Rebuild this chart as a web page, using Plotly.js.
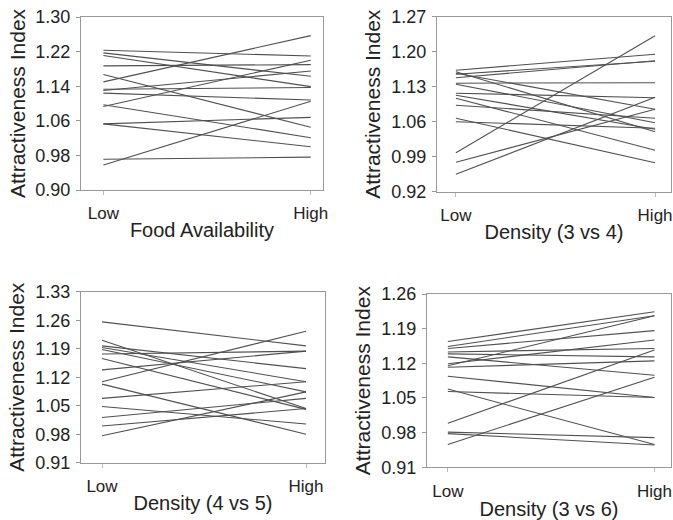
<!DOCTYPE html>
<html>
<head>
<meta charset="utf-8">
<script src="https://cdn.plot.ly/plotly-3.0.1.min.js"></script>
<style>html,body{margin:0;padding:0;background:#fff;}#chart{width:673px;height:520px;}</style>
</head>
<body>
<div id="chart"></div>
<script>
// ---- data ----
const xCategories = ['Low', 'High'];

const foodLow  = [1.223, 1.217, 1.211, 1.187, 1.167, 1.150, 1.133, 1.130, 1.124, 1.093, 1.097, 1.053, 1.053, 0.971, 0.958];
const foodHigh = [1.210, 1.163, 1.139, 1.190, 1.045, 1.257, 1.137, 1.175, 1.108, 1.200, 1.021, 1.068, 1.000, 0.976, 1.105];

const dens34Low  = [1.163, 1.155, 1.148, 1.160, 1.157, 1.137, 1.135, 1.117, 1.113, 1.107, 1.093, 1.067, 1.060, 0.998, 0.979, 0.955];
const dens34High = [1.195, 1.181, 1.182, 1.040, 1.085, 1.138, 1.058, 1.108, 1.045, 1.003, 1.067, 0.978, 1.047, 1.232, 1.085, 1.109];

const dens45Low  = [1.256, 1.211, 1.197, 1.193, 1.188, 1.177, 1.166, 1.138, 1.109, 1.103, 1.068, 1.048, 1.021, 1.000, 0.976];
const dens45High = [1.197, 1.043, 1.141, 1.109, 1.084, 1.184, 1.041, 1.184, 1.233, 0.980, 1.109, 1.005, 1.068, 1.043, 1.084];

const dens36Low  = [1.164, 1.154, 1.150, 1.143, 1.139, 1.133, 1.119, 1.115, 1.112, 1.094, 1.068, 1.063, 0.999, 0.981, 0.978, 0.956];
const dens36High = [1.224, 1.216, 1.186, 1.150, 1.133, 1.096, 1.167, 1.216, 1.125, 1.051, 0.956, 1.051, 1.147, 0.970, 0.955, 1.092];

const foodTicks   = [0.90, 0.98, 1.06, 1.14, 1.22, 1.30];
const dens34Ticks = [0.92, 0.99, 1.06, 1.13, 1.20, 1.27];
const dens45Ticks = [0.91, 0.98, 1.05, 1.12, 1.19, 1.26, 1.33];
const dens36Ticks = [0.91, 0.98, 1.05, 1.12, 1.19, 1.26];

const xTitles = ['Food Availability', 'Density (3 vs 4)', 'Density (4 vs 5)', 'Density (3 vs 6)'];
const yTitle = 'Attractiveness Index';

// ---- build ----
const panels = [
  {low: foodLow, high: foodHigh, ticks: foodTicks, xa: 'x', ya: 'y'},
  {low: dens34Low, high: dens34High, ticks: dens34Ticks, xa: 'x2', ya: 'y2'},
  {low: dens45Low, high: dens45High, ticks: dens45Ticks, xa: 'x3', ya: 'y3'},
  {low: dens36Low, high: dens36High, ticks: dens36Ticks, xa: 'x4', ya: 'y4'}
];

const traces = [];
panels.forEach(p => {
  p.low.forEach((v, i) => {
    traces.push({
      x: xCategories, y: [v, p.high[i]],
      xaxis: p.xa, yaxis: p.ya,
      type: 'scatter', mode: 'lines',
      line: {color: '#505050', width: 1.1},
      showlegend: false, hoverinfo: 'skip'
    });
  });
});

const W = 673, H = 520;
const geom = [
  {l: 81,  r: 323, t: 17,    b: 190,   xr: [-0.108, 1.059], tso: 0},
  {l: 437, r: 671, t: 16.7,  b: 191.7, xr: [-0.095, 1.080], tso: 0},
  {l: 81,  r: 325, t: 291.7, b: 462.7, xr: [-0.103, 1.093], tso: 0},
  {l: 427, r: 671, t: 294,   b: 467.3, xr: [-0.101, 1.080], tso: 5}
];

const font = {family: 'Liberation Sans, Arial, Helvetica, sans-serif', color: '#222'};
const layout = {
  width: W, height: H,
  margin: {l: 0, r: 0, t: 0, b: 0},
  paper_bgcolor: '#fff', plot_bgcolor: '#fff',
  font: font,
  showlegend: false
};

geom.forEach((g, i) => {
  const sx = i === 0 ? '' : String(i + 1);
  const p = panels[i];
  layout['xaxis' + sx] = {
    domain: [g.l / W, g.r / W],
    anchor: 'y' + sx,
    type: 'category',
    range: g.xr,
    showgrid: false, zeroline: false,
    showline: true, mirror: true, linecolor: '#999', linewidth: 1,
    ticks: 'outside', ticklen: 4, tickcolor: '#bbb',
    ticklabelstandoff: 4,
    tickfont: {size: 17, color: '#222', family: font.family},
    title: {text: xTitles[i], font: {size: 20, color: '#222', family: font.family}, standoff: g.tso},
    automargin: false, fixedrange: true
  };
  layout['yaxis' + sx] = {
    domain: [1 - g.b / H, 1 - g.t / H],
    anchor: 'x' + sx,
    range: [p.ticks[0], p.ticks[p.ticks.length - 1]],
    tickvals: p.ticks,
    ticktext: p.ticks.map(t => t.toFixed(2)),
    showgrid: false, zeroline: false,
    showline: true, mirror: true, linecolor: '#999', linewidth: 1,
    ticks: 'outside', ticklen: 4, tickcolor: '#999',
    ticklabelstandoff: 2,
    tickfont: {size: 18, color: '#222', family: font.family},
    title: {text: yTitle, font: {size: 21, color: '#222', family: font.family}, standoff: 4},
    automargin: false, fixedrange: true
  };
});

Plotly.newPlot('chart', traces, layout, {displayModeBar: false, staticPlot: true});
</script>
</body>
</html>
